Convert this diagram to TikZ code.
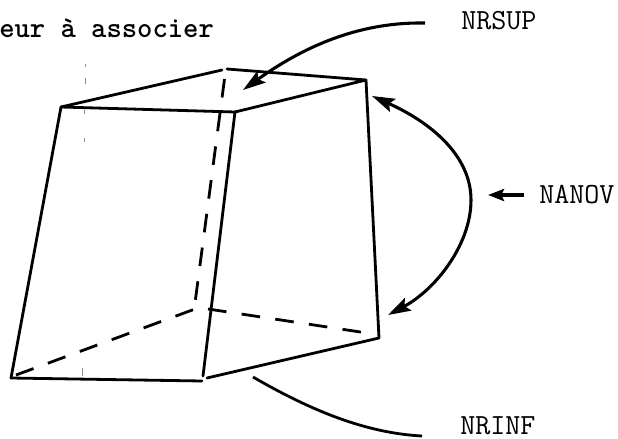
\documentclass[tikz,border=0pt]{standalone}
\usepackage{fontspec}
\usetikzlibrary{arrows.meta}
\tikzset{
  solidedge/.style={line width=2.1pt,black,line cap=round,line join=round},
  hiddenedge/.style={line width=2.1pt,black,dash pattern=on 14pt off 11.5pt},
  pointer/.style={line width=2.3pt,black,-{Stealth[length=17pt,width=10.5pt,inset=3pt]}},
  leader/.style={line width=2.1pt,black},
  lbl/.style={font=\ttfamily\fontsize{21.9pt}{24pt}\selectfont,anchor=base west,inner sep=0pt,text=black},
  lblb/.style={lbl,font=\ttfamily\bfseries\fontsize{21.9pt}{24pt}\selectfont},
  speck/.style={line width=.6pt,black!45}
}
\begin{document}
\begin{tikzpicture}[x=.75pt,y=-.75pt]
\useasboundingbox (0,0) rectangle (618,439);
\fill[white] (0,0) rectangle (618,439);
% corners
\coordinate (A) at (61,107);
\coordinate (B) at (235,112);
\coordinate (C) at (366,80);
\coordinate (Dl) at (222,70);
\coordinate (Dr) at (227,69);
\coordinate (E) at (11,378);
\coordinate (F) at (202,381);
\coordinate (Fb) at (203,376);
\coordinate (Fr) at (207,378);
\coordinate (G) at (379,338);
% scan specks
\coordinate (s1) at (85,64);\coordinate (s2) at (85,67);
\coordinate (s3) at (85,78);\coordinate (s4) at (85,84);
\coordinate (s5) at (84,110);\coordinate (s6) at (84,114);
\coordinate (s7) at (84,138);\coordinate (s8) at (84,142);
\coordinate (s9) at (82,368);\coordinate (s10) at (82,376);
\draw[speck] (s1)--(s2) (s3)--(s4) (s5)--(s6) (s7)--(s8) (s9)--(s10);
% solid edges
\draw[solidedge] (E) -- (A) -- (B) -- (Fb);
\draw[solidedge] (A) -- (Dl);
\draw[solidedge] (Dr) -- (C) -- (B);
\draw[solidedge] (C) -- (G) -- (Fr);
\draw[solidedge] (E) -- (F);
% hidden edges
\coordinate (Dh) at (224.5,79);
\coordinate (Hd) at (195,303);
\coordinate (He) at (195,309);
\coordinate (Hg) at (208,309);
\coordinate (Ee) at (16,375);
\coordinate (Gh) at (367,333);
\draw[hiddenedge] (Dh) -- (Hd);
\draw[hiddenedge] (Ee) -- (He);
\draw[hiddenedge] (Hg) -- (Gh);
% labels
\node[lblb] (t) at (-1,37) {eur à associer};
\node[lbl] (sup) at (461,30) {NRSUP};
\node[lbl] (nov) at (539,203) {NANOV};
\node[lbl] (inf) at (460,434.5) {NRINF};
% arrows
\coordinate (supS) at (425,23);
\coordinate (supT) at (243,90);
\draw[pointer] (supS) .. controls (365,22) and (310,42) .. (supT);
\coordinate (arcM) at (471,200);
\coordinate (arcT1) at (372,96);
\coordinate (arcT2) at (388,315);
\draw[pointer] (arcM) .. controls (471,155) and (430,122) .. (arcT1);
\draw[pointer] (arcM) .. controls (471,245) and (435,290) .. (arcT2);
\coordinate (novS) at (524,195);
\coordinate (novT) at (488,195);
\draw[line width=3pt,black,-{Stealth[length=12pt,width=9pt,inset=2pt]}] (novS) -- (novT);
\coordinate (infS) at (253,377);
\coordinate (infE) at (422,436);
\draw[leader] (infS) .. controls (310,410) and (365,433) .. (infE);
\end{tikzpicture}
\end{document}
